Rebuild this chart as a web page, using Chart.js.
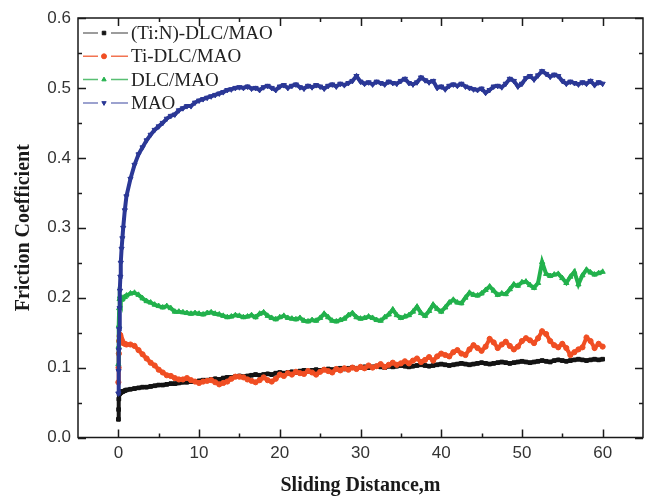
<!DOCTYPE html>
<html>
<head>
<meta charset="utf-8">
<title>Friction Coefficient vs Sliding Distance</title>
<script src="https://cdn.jsdelivr.net/npm/chart.js@4.4.1/dist/chart.umd.min.js"></script>
<style>
  html, body { margin: 0; padding: 0; background: #fff; }
</style>
</head>
<body>
<canvas id="frictionChart" width="648" height="496"></canvas>
<script>
// sliding distance (m)
const distance = [
  0, 0.03, 0.06, 0.1, 0.15, 0.2, 0.25, 0.3, 0.4, 0.5, 0.6, 0.8,
  1, 1.5, 2, 2.5, 3, 3.5, 4, 4.5, 5, 5.5,
  6, 6.5, 7, 7.5, 8, 8.5, 9, 9.5, 10, 10.5,
  11, 11.5, 12, 12.5, 13, 13.5, 14, 14.5, 15, 15.5,
  16, 16.5, 17, 17.5, 18, 18.5, 19, 19.5, 20, 20.5,
  21, 21.5, 22, 22.5, 23, 23.5, 24, 24.5, 25, 25.5,
  26, 26.5, 27, 27.5, 28, 28.5, 29, 29.5, 30, 30.5,
  31, 31.5, 32, 32.5, 33, 33.5, 34, 34.5, 35, 35.5,
  36, 36.5, 37, 37.5, 38, 38.5, 39, 39.5, 40, 40.5,
  41, 41.5, 42, 42.5, 43, 43.5, 44, 44.5, 45, 45.5,
  46, 46.5, 47, 47.5, 48, 48.5, 49, 49.5, 50, 50.5,
  51, 51.5, 52, 52.5, 53, 53.5, 54, 54.5, 55, 55.5,
  56, 56.5, 57, 57.5, 58, 58.5, 59, 59.5,
  60
];

// friction coefficient, (Ti:N)-DLC/MAO
const tinDlcMao = [
  0.026, 0.040, 0.055, 0.062, 0.063, 0.064, 0.064, 0.065, 0.065, 0.066, 0.066, 0.067,
  0.068, 0.069, 0.070, 0.071, 0.072, 0.072, 0.073, 0.074, 0.075, 0.075,
  0.076, 0.077, 0.077, 0.078, 0.079, 0.079, 0.080, 0.080, 0.081, 0.082,
  0.082, 0.083, 0.084, 0.083, 0.085, 0.086, 0.086, 0.087, 0.088, 0.087,
  0.088, 0.089, 0.090, 0.089, 0.090, 0.091, 0.090, 0.092, 0.093, 0.092,
  0.093, 0.094, 0.093, 0.095, 0.096, 0.095, 0.096, 0.097, 0.096, 0.097,
  0.098, 0.097, 0.098, 0.099, 0.098, 0.099, 0.100, 0.099, 0.100, 0.101,
  0.100, 0.101, 0.102, 0.101, 0.100, 0.102, 0.101, 0.102, 0.103, 0.102,
  0.101, 0.102, 0.103, 0.104, 0.103, 0.102, 0.103, 0.104, 0.105, 0.104,
  0.103, 0.104, 0.105, 0.106, 0.105, 0.104, 0.105, 0.106, 0.107, 0.106,
  0.105, 0.106, 0.107, 0.108, 0.107, 0.106, 0.107, 0.108, 0.109, 0.108,
  0.107, 0.108, 0.109, 0.110, 0.109, 0.108, 0.110, 0.111, 0.110, 0.109,
  0.110, 0.111, 0.112, 0.111, 0.110, 0.111, 0.112, 0.111,
  0.112
];

// Ti-DLC/MAO
const tiDlcMao = [
  0.079, 0.100, 0.120, 0.138, 0.145, 0.147, 0.146, 0.143, 0.140, 0.137, 0.135, 0.134,
  0.133, 0.133, 0.131, 0.125, 0.119, 0.113, 0.107, 0.103, 0.097, 0.093,
  0.089, 0.088, 0.085, 0.083, 0.083, 0.085, 0.082, 0.080, 0.078, 0.080,
  0.081, 0.082, 0.079, 0.076, 0.078, 0.080, 0.084, 0.087, 0.087, 0.086,
  0.083, 0.081, 0.079, 0.082, 0.086, 0.082, 0.080, 0.084, 0.090, 0.088,
  0.092, 0.090, 0.094, 0.092, 0.091, 0.095, 0.093, 0.090, 0.094, 0.097,
  0.095, 0.093, 0.098, 0.096, 0.099, 0.097, 0.100, 0.098, 0.101, 0.099,
  0.103, 0.100, 0.102, 0.105, 0.101, 0.104, 0.107, 0.104, 0.106, 0.109,
  0.106, 0.110, 0.113, 0.108, 0.111, 0.115, 0.110, 0.116, 0.120, 0.118,
  0.116, 0.122, 0.125, 0.120, 0.118, 0.126, 0.132, 0.128, 0.124, 0.130,
  0.141, 0.136, 0.128, 0.133, 0.137, 0.131, 0.126, 0.130, 0.138, 0.142,
  0.139, 0.135, 0.142, 0.152, 0.148, 0.138, 0.132, 0.129, 0.134, 0.128,
  0.118, 0.122, 0.126, 0.129, 0.143, 0.138, 0.128, 0.134,
  0.130
];

// DLC/MAO
const dlcMao = [
  0.105, 0.130, 0.160, 0.185, 0.198, 0.202, 0.200, 0.198, 0.197, 0.198, 0.200, 0.201,
  0.203, 0.206, 0.207, 0.204, 0.199, 0.195, 0.193, 0.190, 0.188, 0.186,
  0.188, 0.185, 0.180, 0.180, 0.179, 0.178, 0.177, 0.178, 0.177, 0.176,
  0.178, 0.179, 0.177, 0.176, 0.174, 0.172, 0.173, 0.175, 0.174, 0.172,
  0.173, 0.175, 0.172, 0.177, 0.179, 0.174, 0.171, 0.169, 0.172, 0.174,
  0.171, 0.170, 0.169, 0.171, 0.167, 0.166, 0.168, 0.167, 0.171, 0.177,
  0.172, 0.167, 0.166, 0.168, 0.170, 0.175, 0.178, 0.172, 0.170, 0.171,
  0.173, 0.171, 0.168, 0.167, 0.172, 0.176, 0.183, 0.175, 0.171, 0.173,
  0.175, 0.180, 0.187, 0.178, 0.174, 0.181, 0.190, 0.184, 0.180, 0.186,
  0.193, 0.197, 0.193, 0.192, 0.200, 0.207, 0.204, 0.203, 0.206, 0.211,
  0.216, 0.210, 0.204, 0.206, 0.205, 0.212, 0.219, 0.217, 0.222, 0.223,
  0.218, 0.214, 0.221, 0.251, 0.234, 0.231, 0.233, 0.234, 0.228, 0.221,
  0.230, 0.237, 0.219, 0.232, 0.240, 0.236, 0.233, 0.235,
  0.237
];

// MAO
const mao = [
  0.063, 0.095, 0.125, 0.155, 0.185, 0.210, 0.230, 0.250, 0.270, 0.285, 0.300, 0.325,
  0.345, 0.370, 0.390, 0.405, 0.415, 0.425, 0.433, 0.440, 0.445, 0.450,
  0.456, 0.460, 0.462, 0.468, 0.471, 0.474, 0.474, 0.479, 0.482, 0.484,
  0.486, 0.488, 0.490, 0.492, 0.494, 0.497, 0.498, 0.500, 0.501, 0.500,
  0.502, 0.499, 0.500, 0.497, 0.501, 0.503, 0.500, 0.497, 0.502, 0.504,
  0.500, 0.503, 0.505, 0.501, 0.499, 0.503, 0.501, 0.504, 0.502, 0.499,
  0.503, 0.505, 0.502, 0.506, 0.504, 0.507, 0.510, 0.517, 0.509, 0.506,
  0.508, 0.505, 0.509, 0.507, 0.505, 0.509, 0.507, 0.506, 0.510, 0.513,
  0.507, 0.505, 0.508, 0.515, 0.511, 0.508, 0.510, 0.500, 0.502, 0.498,
  0.503, 0.505, 0.503, 0.506, 0.502, 0.500, 0.498, 0.497, 0.499, 0.493,
  0.497, 0.502, 0.503, 0.501, 0.506, 0.513, 0.510, 0.502, 0.506, 0.514,
  0.517, 0.512, 0.518, 0.524, 0.520, 0.516, 0.519, 0.517, 0.510, 0.506,
  0.509, 0.507, 0.505, 0.508, 0.506, 0.510, 0.504, 0.508,
  0.506
];

const xTickValues = [0, 10, 20, 30, 40, 50, 60];
const xMinorValues = [5, 15, 25, 35, 45, 55];
const yTickValues = [0, 0.1, 0.2, 0.3, 0.4, 0.5, 0.6];
const yMinorValues = [0.05, 0.15, 0.25, 0.35, 0.45, 0.55];

const sansFont = "'Liberation Sans', Arial, sans-serif";
const serifFont = "'Liberation Serif', 'Times New Roman', serif";

function toPoints(values) {
  return distance.map((d, i) => ({ x: d, y: values[i] }));
}

function series(label, values, color, legendColor, pointStyle, rotation, radius, order) {
  return {
    label: label,
    data: toPoints(values),
    borderColor: color,
    backgroundColor: color,
    legendColor: legendColor,
    borderWidth: 4,
    pointStyle: pointStyle,
    rotation: rotation,
    pointRadius: radius,
    pointBorderWidth: 1,
    pointBackgroundColor: color,
    pointBorderColor: color,
    fill: false,
    tension: 0,
    order: order,
  };
}

// frame with inward ticks on all four sides
const framePlugin = {
  id: "frame",
  afterDraw(chart) {
    const { ctx, chartArea: a, scales } = chart;
    ctx.save();
    ctx.strokeStyle = "#1a1a1a";
    ctx.lineWidth = 1.5;
    ctx.strokeRect(a.left, a.top, a.right - a.left, a.bottom - a.top);
    ctx.beginPath();
    const xTicks = (vals, len) => {
      vals.forEach(v => {
        const px = Math.round(scales.x.getPixelForValue(v)) + 0.5;
        ctx.moveTo(px, a.bottom); ctx.lineTo(px, a.bottom - len);
        ctx.moveTo(px, a.top); ctx.lineTo(px, a.top + len);
      });
    };
    const yTicks = (vals, len) => {
      vals.forEach(v => {
        const py = Math.round(scales.y.getPixelForValue(v)) + 0.5;
        ctx.moveTo(a.left, py); ctx.lineTo(a.left + len, py);
        ctx.moveTo(a.right, py); ctx.lineTo(a.right - len, py);
      });
    };
    xTicks(xTickValues, 8);
    xTicks(xMinorValues, 4);
    yTicks(yTickValues, 8);
    yTicks(yMinorValues, 4);
    ctx.stroke();
    ctx.restore();
  }
};

// legend in the upper left corner: dash, marker, dash, label
const insideLegend = {
  id: "insideLegend",
  afterDraw(chart) {
    const { ctx, chartArea: a } = chart;
    ctx.save();
    chart.data.datasets.forEach((ds, i) => {
      const y = a.top + 15 + i * 23.3;
      const x0 = a.left + 5;
      ctx.strokeStyle = ds.legendColor;
      ctx.lineWidth = 1.5;
      ctx.beginPath();
      ctx.moveTo(x0, y); ctx.lineTo(x0 + 15, y);
      ctx.moveTo(x0 + 28, y); ctx.lineTo(x0 + 45, y);
      ctx.stroke();
      ctx.fillStyle = ds.borderColor;
      ctx.strokeStyle = ds.borderColor;
      ctx.lineWidth = 1;
      Chart.helpers.drawPoint(ctx, { pointStyle: ds.pointStyle, rotation: ds.rotation, radius: 2.5, borderWidth: 1 }, x0 + 21, y);
      ctx.fillStyle = "#222";
      ctx.font = "19px " + serifFont;
      ctx.textBaseline = "middle";
      ctx.textAlign = "left";
      ctx.fillText(ds.label, x0 + 48, y + 1);
    });
    ctx.restore();
  }
};

const ctx = document.getElementById("frictionChart");

new Chart(ctx, {
  type: "line",
  data: {
    datasets: [
      series("(Ti:N)-DLC/MAO", tinDlcMao, "#141414", "rgba(90,90,90,0.8)", "rect", 0, 2.6, 4),
      series("Ti-DLC/MAO", tiDlcMao, "#f04e23", "rgba(240,90,50,0.85)", "circle", 0, 2.6, 3),
      series("DLC/MAO", dlcMao, "#22b14c", "rgba(60,180,90,0.85)", "triangle", 0, 3, 2),
      series("MAO", mao, "#2b3896", "rgba(100,110,180,0.85)", "triangle", 180, 3, 1),
    ],
  },
  options: {
    responsive: false,
    animation: false,
    layout: { padding: { top: 18, right: 4, left: 0, bottom: 0 } },
    plugins: {
      legend: { display: false },
      tooltip: { enabled: false },
    },
    scales: {
      x: {
        type: "linear",
        min: -5,
        max: 65,
        grid: { display: false, drawTicks: false },
        border: { display: false },
        afterBuildTicks: s => { s.ticks = xTickValues.map(v => ({ value: v })); },
        ticks: {
          padding: 6,
          autoSkip: false,
          maxRotation: 0,
          color: "#333",
          font: { family: sansFont, size: 17 },
        },
        title: {
          display: true,
          text: "Sliding Distance,m",
          color: "#1a1a1a",
          padding: 0,
          font: { family: serifFont, size: 20, weight: "bold", lineHeight: 1 },
        },
        afterFit: s => { s.height = 58.5; },
      },
      y: {
        min: 0,
        max: 0.6,
        grid: { display: false, drawTicks: false },
        border: { display: false },
        afterBuildTicks: s => { s.ticks = yTickValues.map(v => ({ value: v })); },
        ticks: {
          padding: 7,
          color: "#333",
          font: { family: sansFont, size: 17 },
          callback: v => v.toFixed(1),
        },
        title: {
          display: true,
          text: "Friction Coefficient",
          color: "#1a1a1a",
          padding: { top: 14, bottom: 0 },
          font: { family: serifFont, size: 20, weight: "bold", lineHeight: 1 },
        },
        afterFit: s => { s.width = 78; },
      },
    },
  },
  plugins: [framePlugin, insideLegend],
});
</script>
</body>
</html>
